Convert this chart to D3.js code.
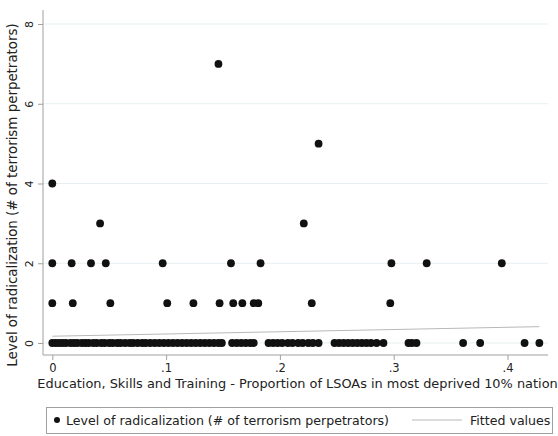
<!DOCTYPE html>
<html>
<head>
<meta charset="utf-8">
<script src="https://cdn.jsdelivr.net/npm/d3@7"></script>
<style>
  body { margin: 0; background: #fff; }
  svg { display: block; font-family: "DejaVu Sans", Arial, sans-serif; }
</style>
</head>
<body>
<div id="wrap"></div>
<script>

// radicalization level per area
const xZero = [
    0.000, 0.003, 0.006, 0.009, 0.012, 0.016, 0.019, 0.022, 0.026, 0.029,
    0.032, 0.036, 0.039, 0.043, 0.046, 0.050, 0.053, 0.057, 0.060, 0.064,
    0.068, 0.071, 0.075, 0.079, 0.082, 0.086, 0.090, 0.094, 0.098, 0.102,
    0.106, 0.110, 0.114, 0.118, 0.122, 0.126, 0.130, 0.134, 0.138, 0.142,
    0.146, 0.149,
    0.158, 0.162, 0.166, 0.170, 0.174, 0.177,
    0.190, 0.194, 0.198, 0.202, 0.207, 0.211, 0.216, 0.220, 0.225, 0.229, 0.234,
    0.248, 0.252, 0.256, 0.260, 0.264, 0.268, 0.272, 0.276, 0.280, 0.285, 0.291,
    0.313, 0.316, 0.320,
    0.361, 0.376, 0.415, 0.428
];
const xOne = [0.000, 0.018, 0.051, 0.101, 0.124, 0.147, 0.159, 0.167, 0.177, 0.181, 0.228, 0.297];
const xTwo = [0.000, 0.017, 0.034, 0.047, 0.097, 0.157, 0.183, 0.298, 0.329, 0.395];
const xThree = [0.042, 0.221];
const xFour = [0.000];
const xFive = [0.234];
const xSeven = [0.146];

// fitted values (linear fit), endpoints
const xFit = [0, 0.428];
const yFit = [0.17, 0.41];

const xTicks = [0, 0.1, 0.2, 0.3, 0.4];
const xTickLabels = ["0", ".1", ".2", ".3", ".4"];
const yTicks = [0, 2, 4, 6, 8];

const xTitle = "Education, Skills and Training - Proportion of LSOAs in most deprived 10% nation";
const yTitle = "Level of radicalization (# of terrorism perpetrators)";
const legendLabels = ["Level of radicalization (# of terrorism perpetrators)", "Fitted values"];


function drawChart() {
    const width = 558, height = 436;
    const left = 43, right = 548, top = 10, bottom = 355;

    const points = [];
    [[xZero, 0], [xOne, 1], [xTwo, 2], [xThree, 3], [xFour, 4], [xFive, 5], [xSeven, 7]]
        .forEach(([xs, y]) => xs.forEach(x => points.push({x: x, y: y})));

    const x = d3.scaleLinear().domain([0, 0.4]).range([52.3, 507.5]);
    const y = d3.scaleLinear().domain([0, 8]).range([343, 24]);

    const svg = d3.create("svg")
        .attr("width", width)
        .attr("height", height);

    svg.append("rect").attr("width", width).attr("height", height).attr("fill", "#fff");

    // gridlines
    svg.append("g")
        .selectAll("line")
        .data(yTicks)
        .join("line")
            .attr("x1", left).attr("x2", right)
            .attr("y1", d => y(d)).attr("y2", d => y(d))
            .attr("stroke", "#e6eff1")
            .attr("stroke-width", 1.2);

    // y axis
    const yAxis = svg.append("g")
        .attr("transform", `translate(${left},0)`)
        .call(d3.axisLeft(y).tickValues(yTicks).tickSize(5).tickPadding(4).tickSizeOuter(0));
    yAxis.select(".domain").attr("d", `M0,${top}V${bottom}`).attr("stroke", "#a0a0a0");
    yAxis.selectAll(".tick line").attr("stroke", "#a0a0a0");
    yAxis.selectAll(".tick text")
        .attr("font-size", 11)
        .attr("font-family", "DejaVu Sans")
        .attr("fill", "#222")
        .attr("text-anchor", "middle")
        .attr("transform", "translate(-14,0) rotate(-90)")
        .attr("x", 0)
        .attr("y", 0)
        .attr("dy", "0.35em");

    // x axis
    const xAxis = svg.append("g")
        .attr("transform", `translate(0,${bottom})`)
        .call(d3.axisBottom(x).tickValues(xTicks).tickFormat((d, i) => xTickLabels[i]).tickSize(5).tickPadding(4).tickSizeOuter(0));
    xAxis.select(".domain").attr("d", `M${left},0H${right}`).attr("stroke", "#a0a0a0");
    xAxis.selectAll(".tick line").attr("stroke", "#a0a0a0");
    xAxis.selectAll(".tick text").attr("font-size", 11.5).attr("font-family", "DejaVu Sans").attr("fill", "#222");

    // fitted line
    svg.append("path")
        .datum(xFit.map((d, i) => [d, yFit[i]]))
        .attr("fill", "none")
        .attr("stroke", "#b8b8b8")
        .attr("stroke-width", 1)
        .attr("d", d3.line().x(d => x(d[0])).y(d => y(d[1])));

    // points
    svg.append("g")
        .selectAll("circle")
        .data(points)
        .join("circle")
            .attr("cx", d => x(d.x))
            .attr("cy", d => y(d.y))
            .attr("r", 3.9)
            .attr("fill", "#111");

    // titles
    svg.append("text")
        .attr("x", (left + right) / 2 + 2)
        .attr("y", 388)
        .attr("text-anchor", "middle")
        .attr("font-size", 12.9)
        .attr("fill", "#222")
        .text(xTitle);

    svg.append("text")
        .attr("transform", `translate(17,${195}) rotate(-90)`)
        .attr("text-anchor", "middle")
        .attr("font-size", 13.4)
        .attr("fill", "#222")
        .text(yTitle);

    // legend
    const lg = svg.append("g");
    lg.append("rect")
        .attr("x", 46.5).attr("y", 407.5)
        .attr("width", 506).attr("height", 26)
        .attr("fill", "#fff")
        .attr("stroke", "#a0a0a0");
    lg.append("circle").attr("cx", 57).attr("cy", 420).attr("r", 3).attr("fill", "#111");
    lg.append("text")
        .attr("x", 66).attr("y", 424.5)
        .attr("font-size", 12.6)
        .attr("fill", "#222")
        .text(legendLabels[0]);
    lg.append("line")
        .attr("x1", 412).attr("x2", 462)
        .attr("y1", 420).attr("y2", 420)
        .attr("stroke", "#b8b8b8");
    lg.append("text")
        .attr("x", 470).attr("y", 424.5)
        .attr("font-size", 12.6)
        .attr("fill", "#222")
        .text(legendLabels[1]);

    return svg.node();
}

d3.select("#wrap").node().appendChild(drawChart());
</script>
</body>
</html>
